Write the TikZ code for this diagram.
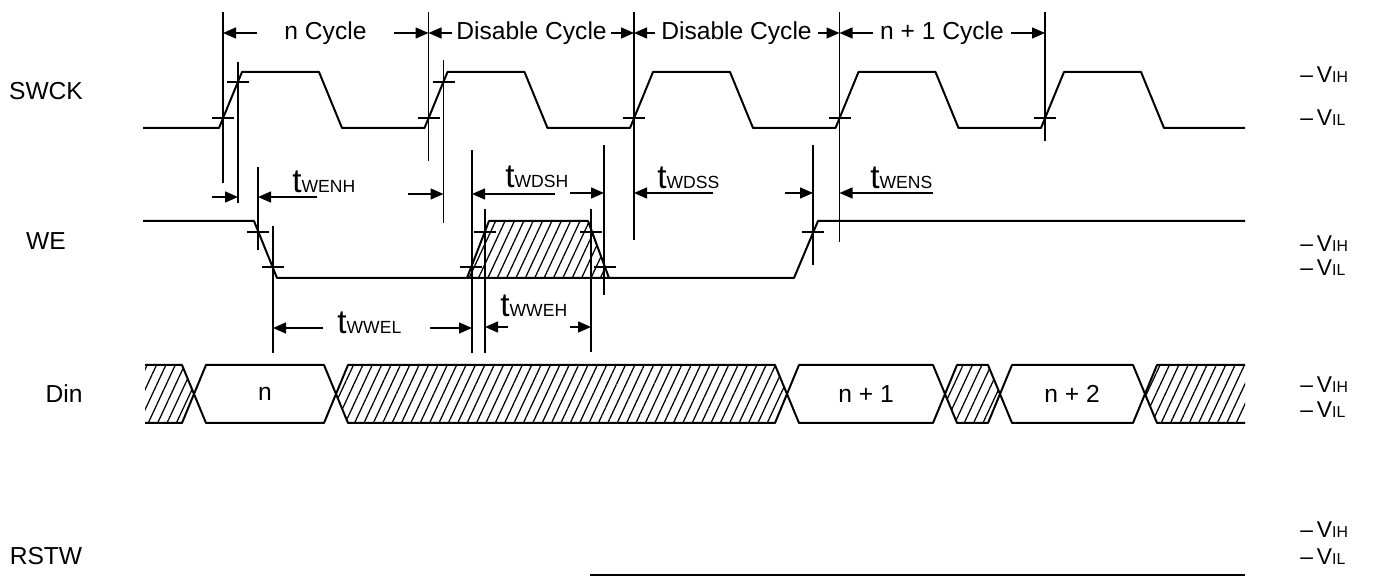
\documentclass[tikz,border=0pt]{standalone}
\usepackage{fontspec}
\setmainfont{Liberation Sans}
\usetikzlibrary{arrows.meta,patterns.meta}

\newcommand{\tsig}[1]{{\fontsize{19}{19}\selectfont t}{\fontsize{10}{10}\selectfont #1}}
\newcommand{\lev}[1]{--\,V{\fontsize{9}{9}\selectfont #1}}

\begin{document}
\begin{tikzpicture}[x=0.2mm,y=-0.2mm]
\tikzstyle{every node}=[font=\fontsize{14}{14}\selectfont,inner sep=0pt];
\tikzstyle{wave}=[line width=0.4mm,line join=round];
\tikzstyle{guide}=[line width=0.22mm];
\tikzstyle{dim}=[line width=0.3mm,-{Triangle[length=2.6mm,width=2.2mm]}];
\tikzstyle{hatch}=[pattern={Lines[angle=65,distance=1.7mm,line width=0.25mm]}];
\tikzstyle{cyc}=[minimum height=4mm];
\useasboundingbox (0,0) rectangle (1388,580);

  \node (swck) at (46,91) {SWCK};
  \node (we) at (46,241) {WE};
  \node (din) at (64,394) {Din};
  \node (rstw) at (46,556) {RSTW};

\foreach \y/\l in {75/IH,118/IL,244/IH,268/IL,385/IH,410/IL,530/IH,557/IL}
  \node[anchor=west,font=\fontsize{13}{13}\selectfont] (lv\y) at (1300,\y) {\lev{\l}};

% SWCK
\draw[wave] (143,128) \foreach \k in {0,...,4} {
  -- ({219+205.5*\k},128) -- ({242+205.5*\k},72) -- ({319+205.5*\k},72) -- ({342+205.5*\k},128) }
  -- (1245,128);
\foreach \k in {0,...,4}
  \draw[wave] ({212+205.5*\k},118) -- ++(22,0);
\foreach \x in {238,443.5}
  \draw[wave] (\x-11,82) -- (\x+11,82);

% cycle marks
\foreach \n/\x/\b in {b0/223/183, b1/428.5/161, b2/634/240, b3/839.5/242, b4/1045/141} {
  \coordinate (\n) at (\x,33);
  \draw[guide] (\x,12) -- (\x,\b);
}
  \node[cyc,minimum width=27.4mm] (ncyc) at (325.5,33) {n Cycle};
  \node[cyc,minimum width=31.8mm] (dis1) at (531.5,33) {Disable Cycle};
  \node[cyc,minimum width=32.6mm] (dis2) at (736.5,33) {Disable Cycle};
  \node[cyc,minimum width=27.6mm] (n1cyc) at (942,33) {n + 1 Cycle};
\foreach \from/\to in {ncyc.west/b0, ncyc.east/b1, dis1.west/b1, dis1.east/b2,
                       dis2.west/b2, dis2.east/b3, n1cyc.west/b3, n1cyc.east/b4}
  \draw[dim] (\from) -- (\to);

% WE
\draw[wave] (143,221) -- (254,221) -- (277,278) -- (794,278) -- (818,221) -- (1245,221);
\draw[wave,hatch] (467,278) -- (489,221) -- (588,221) -- (609,278);
\foreach \x/\y in {258/232, 273/267, 471/267, 485/232, 591/232, 605/267, 813/232}
  \draw[wave] (\x-11,\y) -- (\x+11,\y);

\foreach \x/\t/\b in {238/62/203, 443.5/60/223, 258/167/250, 273/226/353, 472/150/353,
                      485/209/353, 591/209/352, 604/145/295, 813/145/265}
  \draw[guide] (\x,\t) -- (\x,\b);

% timing
\foreach \a/\b/\y in {212/238/197, 317/258/197, 408/443.5/194, 555/472/194,
                      570/604/193, 713/634/193, 785/813/193, 933/839.5/193,
                      323/273/328, 430/472/328, 508/485/327, 570/591/327}
  \draw[dim] (\a,\y) -- (\b,\y);

  \node[anchor=base west] (twenh) at (292,193) {\tsig{WENH}};
  \node[anchor=base west] (twdsh) at (505,188) {\tsig{WDSH}};
  \node[anchor=base west] (twdss) at (657,189) {\tsig{WDSS}};
  \node[anchor=base west] (twens) at (870,189) {\tsig{WENS}};
  \node[anchor=base west] (twwel) at (337,334) {\tsig{WWEL}};
  \node[anchor=base west] (twweh) at (500,317) {\tsig{WWEH}};

% Din
\fill[hatch] (145,365) -- (182,365) -- (194,394) -- (182,423) -- (145,423) -- cycle;
\draw[wave] (145,365) -- (182,365) -- (194,394) -- (182,423) -- (145,423);
\foreach \a/\b in {336/787, 945/1000}
  \draw[wave,hatch] (\a,394) -- (\a+12,365) -- (\b-12,365) -- (\b,394) -- (\b-12,423) -- (\a+12,423) -- cycle;
\foreach \a/\b in {194/336, 787/945, 1000/1145}
  \draw[wave] (\a,394) -- (\a+12,365) -- (\b-12,365) -- (\b,394) -- (\b-12,423) -- (\a+12,423) -- cycle;
\fill[hatch] (1145,394) -- (1157,365) -- (1245,365) -- (1245,423) -- (1157,423) -- cycle;
\draw[wave] (1245,365) -- (1157,365) -- (1145,394) -- (1157,423) -- (1245,423);

  \node (dn) at (265,394) {n};
  \node (dn1) at (866,394) {n + 1};
  \node (dn2) at (1072,394) {n + 2};

% RSTW
\draw[line width=0.3mm] (590,575) -- (1245,575);

\end{tikzpicture}
\end{document}
